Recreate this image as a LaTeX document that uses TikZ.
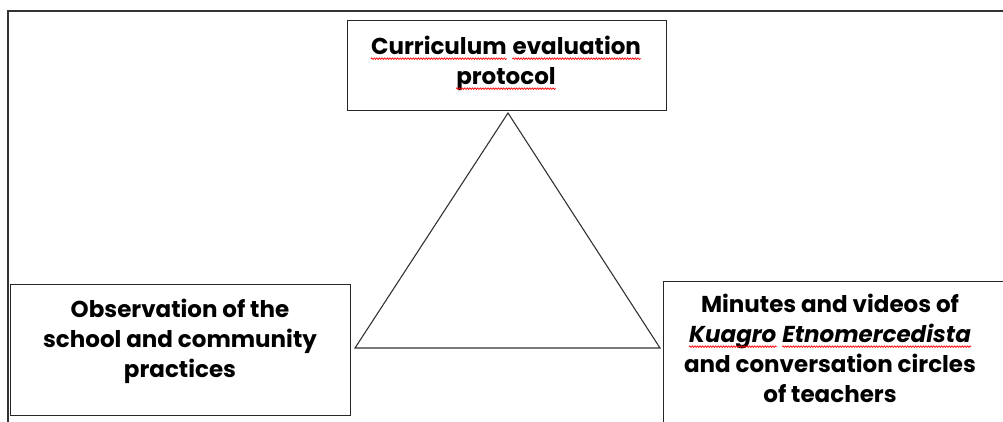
\documentclass[tikz,border=0pt]{standalone}
\usepackage{fontspec}
\setmainfont{Poppins}
\usetikzlibrary{decorations.pathmorphing}
\tikzset{
  frame/.style={line width=1.3pt, draw=black!80},
  box/.style={draw=black!85, line width=1.2pt, inner sep=0pt},
  txt/.style={align=center, font=\fontsize{23}{30}\selectfont\bfseries, inner sep=0pt},
  tri/.style={line width=1.1pt, draw=black!80, line join=miter}
}
% red spell-check wave under a word
\newcommand{\spellmark}[1]{\tikz[baseline=(w.base)]{\node[inner sep=0pt] (w) {#1};
  \draw[red, line width=0.7pt, decorate, decoration={snake, amplitude=0.8pt, segment length=2.6pt}]
    ([yshift=-4.5pt]w.base west) -- ([yshift=-4.5pt]w.base east);}}

\begin{document}
\begin{tikzpicture}[x=1pt, y=-1pt]
  \useasboundingbox (0,0) rectangle (1003,422);
  \clip (0,0) rectangle (1003,422);

  % outer frame
  \draw[frame] (8,422) -- (8,11) -- (1003,11);

  % boxes
  \node[box, minimum width=319pt, minimum height=90pt, anchor=north west] (protocolbox) at (347,20) {};
  \node[box, minimum width=340pt, minimum height=131pt, anchor=north west] (observationbox) at (10,284) {};
  \node[box, minimum width=360pt, minimum height=160pt, anchor=north west] (minutesbox) at (663,281) {};

  % texts
  \node[txt] (protocol) at (506,63) {\spellmark{Curriculum} \spellmark{evaluation}\\ \spellmark{protocol}};
  \node[txt] (observation) at (180,341) {Observation of the\\ school and community\\ practices};
  \node[txt] (minutes) at (830,348) {Minutes and videos of\\ \spellmark{\itshape Kuagro} \spellmark{\itshape Etnomercedista}\\ and conversation circles\\ of teachers};

  % triangle
  \coordinate (apex) at (508,113);
  \coordinate (baseL) at (355,348);
  \coordinate (baseR) at (660,348);
  \draw[tri] (apex) -- (baseR) -- (baseL) -- cycle;
\end{tikzpicture}
\end{document}
